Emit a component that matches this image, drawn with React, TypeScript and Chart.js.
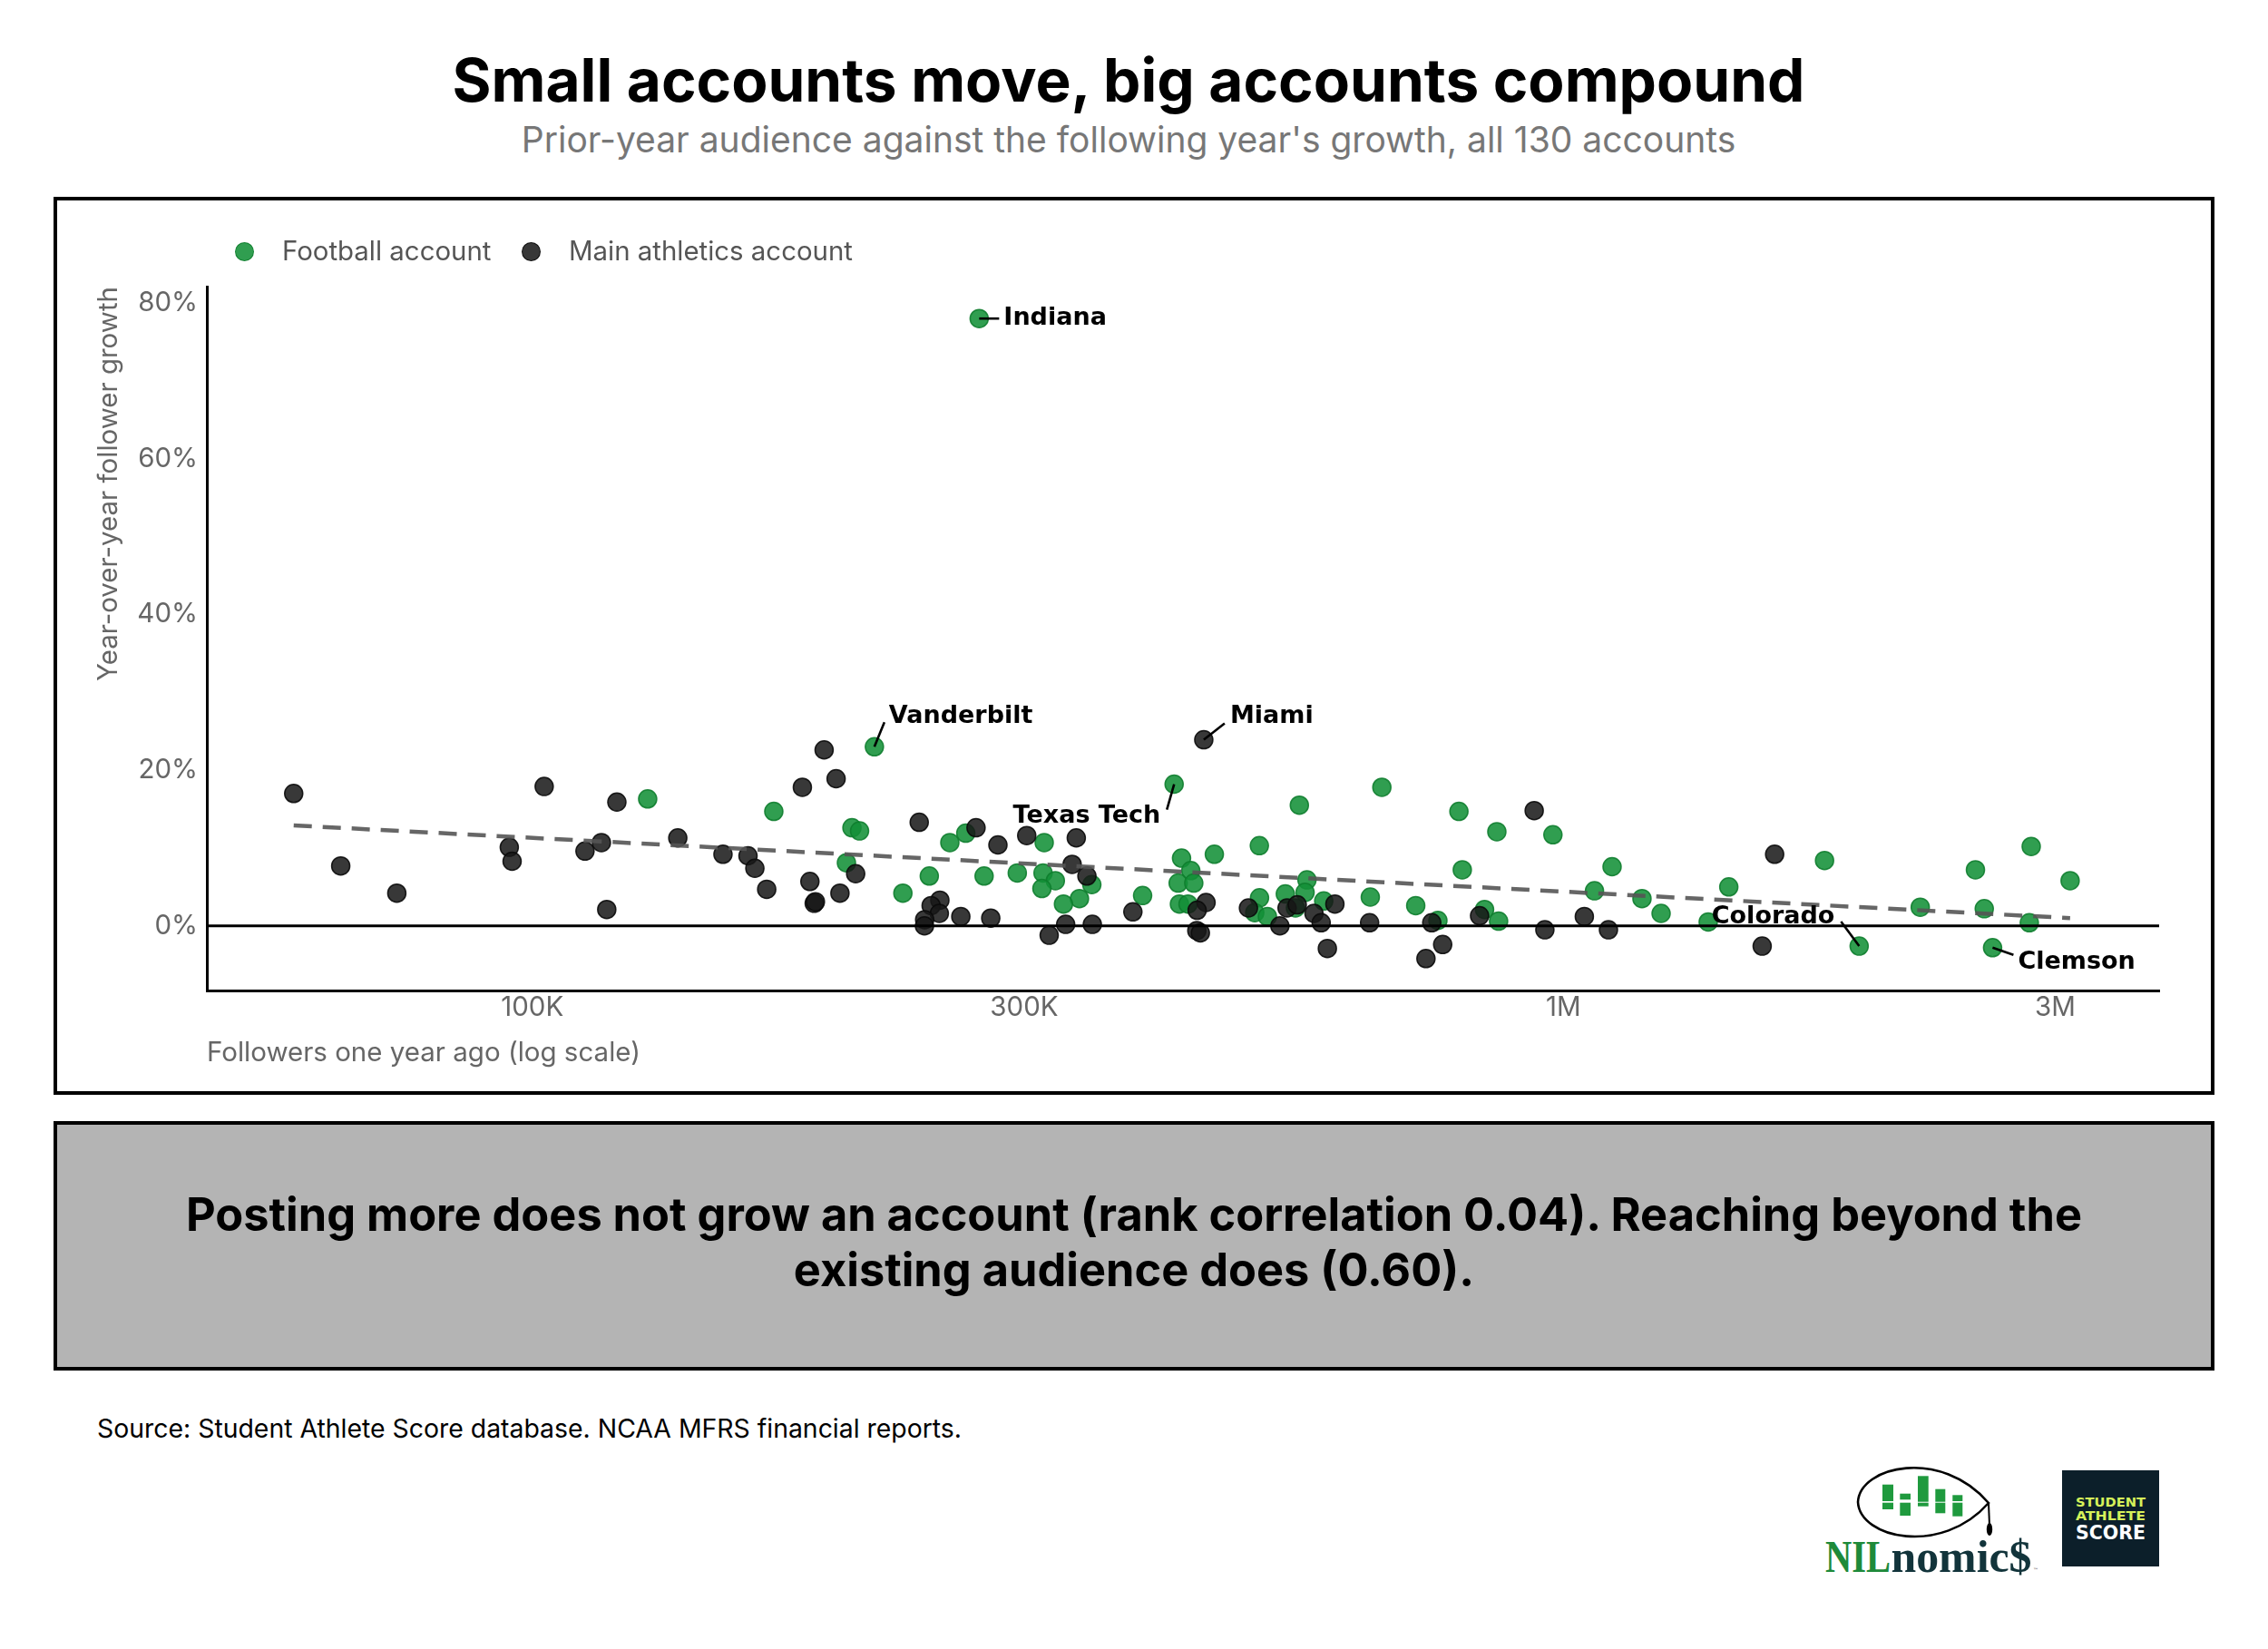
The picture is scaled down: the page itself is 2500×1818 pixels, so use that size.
import React, { useEffect, useRef } from 'react';
import { Chart, registerables } from 'chart.js';

Chart.register(...registerables);

// ---- data (followers in thousands, growth in %) ----
const footballFollowersK = [
  129.4, 171.5, 214.7, 204.2, 207.7, 201.7, 228.8, 242.7, 254.1, 263.3,
  274.3, 295.4, 313.7, 312.9, 321.6, 312.1, 348.9, 339.4, 327.5, 390.8,
  419.3, 554.6, 507.2, 458.7, 426.3, 435.2, 423.1, 438.1, 424.3, 432.5,
  507.4, 502.0, 516.4, 537.5, 549.8, 564.1, 561.7, 585.6, 666.8, 792.0,
  862.0, 977.0, 798.0, 1115, 1072, 1447, 1192, 1244, 1382, 838.7,
  865.4, 755.7, 719.2, 649.8, 1792, 1936, 2219, 2510, 2843, 3101,
  2560, 2831, 2608, 271.3,
];
const footballGrowth = [
  16.3, 14.7, 23.0, 12.6, 12.2, 8.1, 4.2, 6.4, 10.7, 11.9,
  6.4, 6.8, 10.7, 6.8, 5.8, 4.8, 5.3, 3.5, 2.8, 3.9,
  18.2, 15.5, 10.3, 9.2, 8.7, 7.1, 5.5, 5.5, 2.8, 2.8,
  3.6, 1.7, 1.2, 4.1, 2.3, 5.9, 4.3, 3.2, 17.8, 14.7,
  12.1, 11.7, 7.2, 7.6, 4.5, 5.0, 3.5, 1.6, 0.5, 2.1,
  0.6, 0.7, 2.6, 3.7, 8.4, -2.6, 2.4, 7.2, 10.2, 5.8,
  2.2, 0.4, -2.8, 78.0,
];
const mainFollowersK = [
  58.7, 65.2, 73.9, 102.7, 95.0, 95.6, 112.5, 116.7, 118.1, 120.8,
  138.4, 153.1, 161.9, 164.4, 168.8, 182.8, 191.9, 197.1, 205.9, 185.9,
  187.7, 188.2, 198.8, 237.3, 269.4, 282.9, 248.5, 243.7, 248.2, 240.2,
  240.1, 260.4, 278.4, 301.7, 337.0, 333.9, 345.1, 329.1, 317.2, 349.3,
  382.4, 448.0, 450.3, 441.4, 441.1, 444.6, 495.0, 531.0, 539.6, 573.0,
  582.3, 590.4, 937.0, 1048, 1106, 959.6, 829.4, 763.8, 735.8, 745.4,
  648.8, 600.4, 1559, 1603, 552.0,
];
const mainGrowth = [
  17.0, 7.7, 4.2, 17.9, 10.1, 8.3, 9.6, 10.7, 2.1, 15.9,
  11.3, 9.2, 9.0, 7.4, 4.7, 17.8, 22.6, 18.9, 6.7, 5.7,
  2.9, 3.1, 4.2, 13.3, 12.6, 10.4, 3.3, 2.6, 1.6, 0.8,
  0.0, 1.2, 1.0, 11.6, 11.3, 7.9, 6.4, 0.2, -1.2, 0.2,
  1.8, 23.9, 3.0, 2.0, -0.6, -0.9, 2.3, 0.0, 2.3, 1.6,
  0.4, -2.9, 14.8, 1.2, -0.5, -0.5, 1.3, -2.4, -4.2, 0.4,
  0.4, 2.8, -2.6, 9.2, 2.7,
];
const trendFollowersK = [58.7, 3101];
const trendGrowth = [12.9, 1.0];

const xTickValues = [100000, 300000, 1000000, 3000000];
const xTickLabels = ['100K', '300K', '1M', '3M'];
const yTickValues = [0, 20, 40, 60, 80];

const labelNames = ['Indiana', 'Vanderbilt', 'Miami', 'Texas Tech', 'Colorado', 'Clemson'];
const labelSeries = ['football', 'football', 'main', 'football', 'football', 'football'];
const labelIndex = [63, 2, 41, 20, 55, 62];

// ---- styles ----
const GREEN = 'rgba(19,145,56,0.88)';
const GREEN_EDGE = 'rgba(14,125,46,0.9)';
const DARK = 'rgba(23,23,23,0.86)';
const DARK_EDGE = 'rgba(10,10,10,0.9)';
const AXIS_FONT = 29.5;

const labelOffsets: Record<string, { tx: number; ty: number; align: CanvasTextAlign; lx: number; ly: number }> = {
  Indiana: { tx: 27, ty: 0, align: 'left', lx: 22, ly: 0 },
  Vanderbilt: { tx: 16, ty: -33, align: 'left', lx: 11, ly: -27 },
  Miami: { tx: 29, ty: -26, align: 'left', lx: 23, ly: -18 },
  'Texas Tech': { tx: -15, ty: 35, align: 'right', lx: -8, ly: 28 },
  Colorado: { tx: -27, ty: -32, align: 'right', lx: -20, ly: -27 },
  Clemson: { tx: 28, ty: 16, align: 'left', lx: 23, ly: 8 },
};

const X_MIN = 48350;
const X_MAX = 3783000;
const Y_MIN = -8.3;
const Y_MAX = 82.1;

const zeroLinePlugin = {
  id: 'zeroLine',
  afterDatasetsDraw(chart: any) {
    const { ctx, chartArea, scales } = chart;
    const y = scales.y.getPixelForValue(0);
    ctx.save();
    ctx.strokeStyle = '#000';
    ctx.lineWidth = 2.8;
    ctx.beginPath();
    ctx.moveTo(chartArea.left, y);
    ctx.lineTo(chartArea.right, y);
    ctx.stroke();
    ctx.restore();
  },
};

const annotationPlugin = {
  id: 'pointLabels',
  afterDatasetsDraw(chart: any) {
    const { ctx, scales } = chart;
    ctx.save();
    labelNames.forEach((name, i) => {
      const isFb = labelSeries[i] === 'football';
      const xs = isFb ? footballFollowersK : mainFollowersK;
      const ys = isFb ? footballGrowth : mainGrowth;
      const px = scales.x.getPixelForValue(xs[labelIndex[i]] * 1000);
      const py = scales.y.getPixelForValue(ys[labelIndex[i]]);
      const o = labelOffsets[name];
      ctx.strokeStyle = '#000';
      ctx.lineWidth = 2.6;
      ctx.beginPath();
      ctx.moveTo(px, py);
      ctx.lineTo(px + o.lx, py + o.ly);
      ctx.stroke();
      ctx.fillStyle = '#000';
      ctx.font = 'bold 27px "DejaVu Sans"';
      ctx.textAlign = o.align;
      ctx.textBaseline = 'middle';
      ctx.fillText(name, px + o.tx, py + o.ty);
    });
    ctx.restore();
  },
};

function ScatterChart() {
  const ref = useRef<HTMLCanvasElement | null>(null);
  useEffect(() => {
    if (!ref.current) return;
    Chart.defaults.font.family = 'Inter';
    const footballPts = footballFollowersK.map((v, i) => ({ x: v * 1000, y: footballGrowth[i] }));
    const mainPts = mainFollowersK.map((v, i) => ({ x: v * 1000, y: mainGrowth[i] }));
    const trendPts = trendFollowersK.map((v, i) => ({ x: v * 1000, y: trendGrowth[i] }));
    const chart = new Chart(ref.current, {
      type: 'scatter',
      data: {
        datasets: [
          {
            label: 'Football account',
            data: footballPts,
            backgroundColor: GREEN,
            borderColor: GREEN_EDGE,
            borderWidth: 1.5,
            pointRadius: 10,
            order: 3,
          },
          {
            label: 'Main athletics account',
            data: mainPts,
            backgroundColor: DARK,
            borderColor: DARK_EDGE,
            borderWidth: 1.5,
            pointRadius: 10,
            order: 2,
          },
          {
            type: 'line',
            label: 'Trend',
            data: trendPts,
            borderColor: 'rgba(85,85,85,0.9)',
            borderWidth: 4.5,
            borderDash: [20, 12],
            pointRadius: 0,
            fill: false,
            order: 1,
          } as any,
        ],
      },
      options: {
        responsive: false,
        animation: false,
        devicePixelRatio: 1,
        events: [],
        layout: { padding: { top: 99, right: 61, left: 0, bottom: 0 } },
        plugins: { legend: { display: false }, tooltip: { enabled: false } },
        scales: {
          x: {
            type: 'logarithmic',
            min: X_MIN,
            max: X_MAX,
            afterBuildTicks: (s: any) => {
              s.ticks = xTickValues.map((v) => ({ value: v }));
            },
            afterFit: (s: any) => {
              s.height = 115;
            },
            grid: { display: false, drawTicks: false },
            border: { display: true, color: '#000', width: 3 },
            ticks: {
              padding: 1,
              color: '#666',
              font: { size: AXIS_FONT },
              maxRotation: 0,
              autoSkip: false,
              callback: (v: any) => {
                const i = xTickValues.indexOf(Number(v));
                return i >= 0 ? xTickLabels[i] : '';
              },
            },
            title: {
              display: true,
              text: 'Followers one year ago (log scale)',
              align: 'start',
              color: '#666',
              font: { size: AXIS_FONT },
              padding: { top: 0, bottom: 28 },
            },
          },
          y: {
            type: 'linear',
            min: Y_MIN,
            max: Y_MAX,
            afterBuildTicks: (s: any) => {
              s.ticks = yTickValues.map((v) => ({ value: v }));
            },
            afterFit: (s: any) => {
              s.width = 169;
            },
            grid: { display: false, drawTicks: false },
            border: { display: true, color: '#000', width: 3 },
            ticks: {
              padding: 10,
              color: '#666',
              font: { size: AXIS_FONT },
              callback: (v: any) => `${v}%`,
            },
            title: {
              display: true,
              text: 'Year-over-year follower growth',
              align: 'end',
              color: '#666',
              font: { size: AXIS_FONT },
              padding: { top: 43, bottom: 0 },
            },
          },
        },
      } as any,
      plugins: [zeroLinePlugin, annotationPlugin],
    });
    return () => chart.destroy();
  }, []);
  return (
    <canvas
      ref={ref}
      width={2382}
      height={990}
      style={{ position: 'absolute', left: 59, top: 217, width: 2382, height: 990 }}
    />
  );
}

function Logos() {
  return (
    <svg
      width={420}
      height={180}
      viewBox="0 0 420 180"
      style={{ position: 'absolute', left: 1990, top: 1590 }}
    >
      <path
        d="M 58 66 C 60 26, 150 6, 202 67 C 150 126, 60 106, 58 66 Z"
        fill="none"
        stroke="#000"
        strokeWidth={2.6}
      />
      <line x1={202} y1={67} x2={203} y2={92} stroke="#000" strokeWidth={2} />
      <ellipse cx={203} cy={96} rx={3.2} ry={7} fill="#000" />
      <g fill="#1f9a3e">
        <rect x={85} y={46.7} width={12} height={18.3} />
        <rect x={85} y={66.7} width={12} height={7.3} />
        <rect x={104.3} y={56.7} width={11.7} height={6.6} />
        <rect x={104.3} y={66.7} width={11.7} height={14.3} />
        <rect x={124} y={37.3} width={11.7} height={28.4} />
        <rect x={124} y={66.7} width={11.7} height={4} />
        <rect x={143.3} y={51.7} width={11} height={14} />
        <rect x={143.3} y={66.7} width={11} height={11.6} />
        <rect x={162.3} y={58.3} width={11} height={6.7} />
        <rect x={162.3} y={66.7} width={11} height={15} />
      </g>
      <text
        x={22}
        y={143}
        fontFamily="'Liberation Serif', serif"
        fontWeight="bold"
        fontSize={50}
        fill="#1e8a3a"
        textLength={72}
        lengthAdjust="spacingAndGlyphs"
      >
        NIL
      </text>
      <text
        x={94.5}
        y={143}
        fontFamily="'Liberation Serif', serif"
        fontWeight="bold"
        fontSize={50}
        fill="#12343b"
        textLength={155}
        lengthAdjust="spacingAndGlyphs"
      >
        nomic$
      </text>
      <text x={251} y={143} fontFamily="'DejaVu Sans'" fontSize={6} fill="#444">
        ™
      </text>
      <rect x={283} y={31} width={107} height={106} fill="#0c1f2a" />
      <text
        x={298}
        y={71}
        fontFamily="'DejaVu Sans Condensed', 'DejaVu Sans'"
        fontWeight="bold"
        fontSize={13.5}
        fill="#d6f25a"
        textLength={77}
        lengthAdjust="spacingAndGlyphs"
      >
        STUDENT
      </text>
      <text
        x={298}
        y={86}
        fontFamily="'DejaVu Sans Condensed', 'DejaVu Sans'"
        fontWeight="bold"
        fontSize={13.5}
        fill="#d6f25a"
        textLength={77}
        lengthAdjust="spacingAndGlyphs"
      >
        ATHLETE
      </text>
      <text
        x={298}
        y={106.7}
        fontFamily="'DejaVu Sans Condensed', 'DejaVu Sans'"
        fontWeight="bold"
        fontSize={20.5}
        fill="#ffffff"
        textLength={77}
        lengthAdjust="spacingAndGlyphs"
      >
        SCORE
      </text>
    </svg>
  );
}

export default function App() {
  const dot = (color: string, edge: string, left: number) => (
    <div
      style={{
        position: 'absolute',
        left: left - 10.5,
        top: 277 - 10.5,
        width: 21,
        height: 21,
        borderRadius: '50%',
        background: color,
        boxSizing: 'border-box',
        border: `1.5px solid ${edge}`,
      }}
    />
  );
  const legendText = (text: string, left: number) => (
    <div
      style={{
        position: 'absolute',
        left,
        top: 259,
        height: 36,
        lineHeight: '36px',
        fontSize: 29.4,
        color: '#555',
        whiteSpace: 'nowrap',
      }}
    >
      {text}
    </div>
  );
  return (
    <div
      style={{
        position: 'absolute',
        left: 0,
        top: 0,
        width: 2500,
        height: 1818,
        background: '#fff',
        overflow: 'hidden',
        fontFamily: 'Inter, "Noto Sans", sans-serif',
      }}
    >
      <div
        style={{
          position: 'absolute',
          left: 0,
          top: 48,
          width: 2488,
          height: 80,
          lineHeight: '80px',
          textAlign: 'center',
          fontSize: 65.7,
          fontWeight: 700,
          color: '#000',
        }}
      >
        Small accounts move, big accounts compound
      </div>
      <div
        style={{
          position: 'absolute',
          left: 0,
          top: 129,
          width: 2488,
          height: 50,
          lineHeight: '50px',
          textAlign: 'center',
          fontSize: 39,
          color: '#777',
        }}
      >
        Prior-year audience against the following year's growth, all 130 accounts
      </div>

      <div
        style={{
          position: 'absolute',
          left: 59,
          top: 217,
          width: 2382,
          height: 990,
          border: '4px solid #000',
          boxSizing: 'border-box',
        }}
      />
      <ScatterChart />
      {dot(GREEN, GREEN_EDGE, 269)}
      {legendText('Football account', 311)}
      {dot(DARK, DARK_EDGE, 585)}
      {legendText('Main athletics account', 627)}

      <div
        style={{
          position: 'absolute',
          left: 59,
          top: 1236,
          width: 2382,
          height: 275,
          border: '4px solid #000',
          boxSizing: 'border-box',
          background: '#b4b4b4',
        }}
      >
        <div
          style={{
            position: 'absolute',
            left: 0,
            top: 68,
            width: '100%',
            textAlign: 'center',
            fontSize: 50.5,
            fontWeight: 700,
            lineHeight: '61px',
            color: '#000',
            whiteSpace: 'nowrap',
          }}
        >
          Posting more does not grow an account (rank correlation 0.04). Reaching beyond the
          <br />
          existing audience does (0.60).
        </div>
      </div>

      <div
        style={{
          position: 'absolute',
          left: 107,
          top: 1557,
          height: 36,
          lineHeight: '36px',
          fontSize: 28.4,
          color: '#000',
          whiteSpace: 'nowrap',
        }}
      >
        Source: Student Athlete Score database. NCAA MFRS financial reports.
      </div>
      <Logos />
    </div>
  );
}
